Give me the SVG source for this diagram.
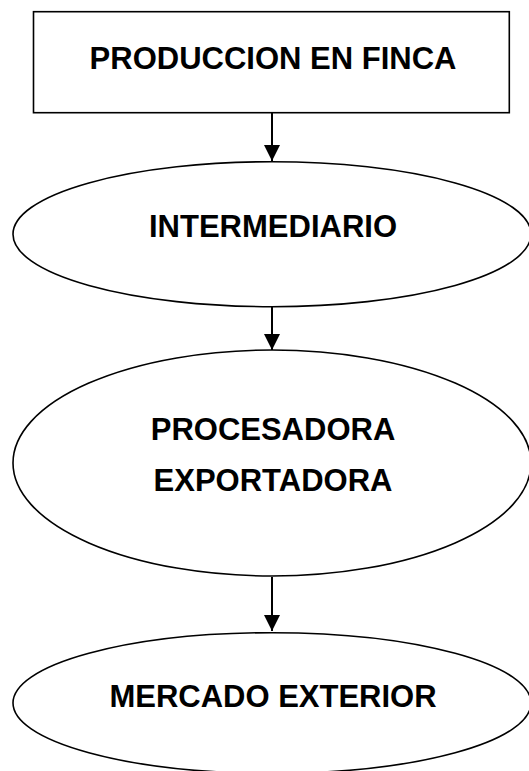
<svg xmlns="http://www.w3.org/2000/svg" width="529" height="771" viewBox="0 0 529 771">
<defs>
<style>
.shape{fill:#fff;stroke:#000;stroke-width:1.6}
.lbl{font-family:"Liberation Sans",Arial,sans-serif;font-weight:bold;font-size:31px;fill:#000;text-anchor:middle}
.conn{stroke:#000;stroke-width:2;fill:none}
</style>
<marker id="arr" markerWidth="8" markerHeight="8" refX="8" refY="4" orient="auto" markerUnits="strokeWidth">
<path d="M0,0 L8,4 L0,8 Z" fill="#000"/>
</marker>
</defs>
<rect width="529" height="771" fill="#fff"/>
<g id="connectors">
<line class="conn" x1="272" y1="113" x2="272" y2="161" marker-end="url(#arr)"/>
<line class="conn" x1="272" y1="307" x2="272" y2="350" marker-end="url(#arr)"/>
<line class="conn" x1="272" y1="577" x2="272" y2="631" marker-end="url(#arr)"/>
</g>
<g id="produccion">
<rect class="shape" x="33.5" y="11.7" width="475.8" height="101"/>
<text class="lbl" x="273" y="69.3">PRODUCCION EN FINCA</text>
</g>
<g id="intermediario">
<ellipse class="shape" cx="272" cy="234.2" rx="259" ry="72.5"/>
<text class="lbl" x="273" y="237.3">INTERMEDIARIO</text>
</g>
<g id="procesadora">
<ellipse class="shape" cx="272" cy="463" rx="259" ry="113"/>
<text class="lbl" x="273" y="439.7">PROCESADORA</text>
<text class="lbl" x="273" y="491">EXPORTADORA</text>
</g>
<g id="mercado">
<ellipse class="shape" cx="272" cy="703" rx="259" ry="70.3"/>
<text class="lbl" x="273" y="707.3">MERCADO EXTERIOR</text>
</g>
</svg>
